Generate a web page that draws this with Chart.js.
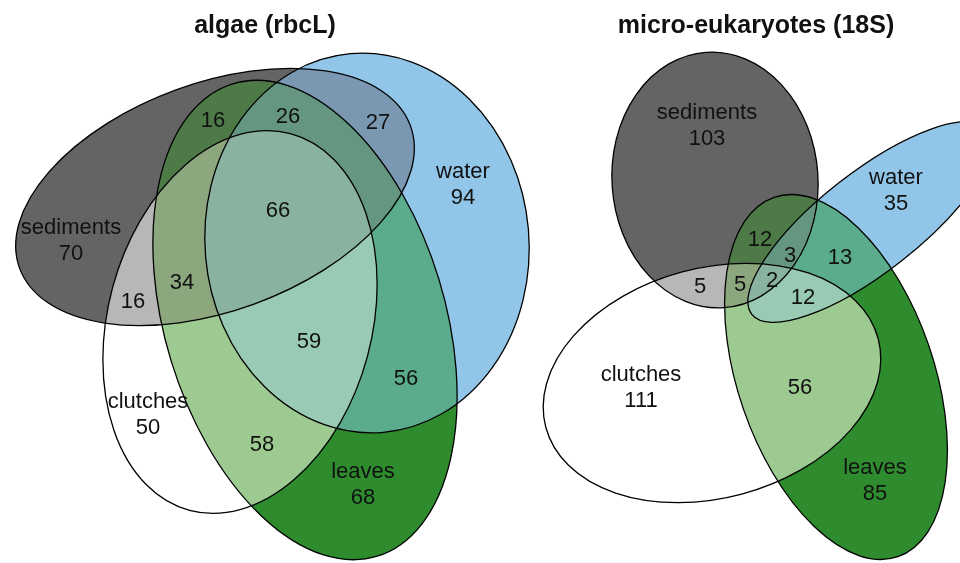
<!DOCTYPE html>
<html>
<head>
<meta charset="utf-8">
<script src="https://cdn.jsdelivr.net/npm/chart.js@4.4.1/dist/chart.umd.min.js"></script>
<style>
  html, body { margin: 0; padding: 0; background: #fff; }
</style>
</head>
<body>
<canvas id="venn" width="960" height="563"></canvas>
<script>
// Sets, one bit each: S=1, W=2, L=4, C=8
const setKeys = ['S', 'W', 'L', 'C'];
const setNames = ['sediments', 'water', 'leaves', 'clutches'];

const panelTitles = ['algae (rbcL)', 'micro-eukaryotes (18S)'];

// Counts per region (left panel: algae)
const leftRegions = ['S', 'SL', 'SWL', 'SW', 'W', 'SWLC', 'SLC', 'SC', 'WLC', 'WL', 'C', 'LC', 'L'];
const leftCounts  = [70, 16, 26, 27, 94, 66, 34, 16, 59, 56, 50, 58, 68];

// Counts per region (right panel: micro-eukaryotes)
const rightRegions = ['S', 'W', 'SL', 'SWL', 'WL', 'SC', 'SLC', 'SWLC', 'WLC', 'C', 'LC', 'L'];
const rightCounts  = [103, 35, 12, 3, 13, 5, 5, 2, 12, 111, 56, 85];

// ---- layout (data units, the axes run 0..960 and 0..563) ----
const titleX = [265, 756];
const titleY = 26;

const leftLabelX = [71, 213, 288, 378, 463, 278, 182, 133, 309, 406, 148, 262, 363];
const leftLabelY = [241, 121, 117, 123, 185, 211, 283, 302, 342, 379, 415, 445, 485];
const rightLabelX = [707, 896, 760, 790, 840, 700, 740, 772, 803, 641, 800, 875];
const rightLabelY = [126, 191, 240, 256, 258, 287, 285, 281, 298, 388, 388, 481];

// ellipses, order S, W, L, C : centre, radii, rotation (deg, clockwise)
const leftCx  = [215, 367, 305, 240];
const leftCy  = [197, 243, 320, 322];
const leftRx  = [208, 162, 247, 132];
const leftRy  = [114, 190, 140, 195];
const leftRot = [-20, -5, 73, 15];

const rightCx  = [715, 870, 836, 712];
const rightCy  = [180, 222, 377, 383];
const rightRx  = [103, 150, 190, 172];
const rightRy  = [128, 50, 98, 115];
const rightRot = [-4, -38, 71, -15];

// fill of each combination of sets (by bit mask)
const regionColors = {
  1: '#646464', 2: '#92c6e8', 4: '#2e8c2e', 8: '#ffffff',
  3: '#7a98b2', 5: '#4e7a48', 9: '#b7b7b7', 6: '#5aac8c', 10: '#c8e2f3', 12: '#9dca91',
  7: '#649682', 11: '#a0b0c0', 13: '#8ca67e', 14: '#98cab4',
  15: '#89b2a0'
};

const panels = [
  { cx: leftCx, cy: leftCy, rx: leftRx, ry: leftRy, rot: leftRot, regions: leftRegions, counts: leftCounts },
  { cx: rightCx, cy: rightCy, rx: rightRx, ry: rightRy, rot: rightRot, regions: rightRegions, counts: rightCounts }
];

function bitCount(m) {
  let n = 0;
  while (m) { n += m & 1; m >>= 1; }
  return n;
}

// ellipse in pixels, through the chart scales
function ellipsePath(ctx, chart, p, i) {
  const xs = chart.scales.x, ys = chart.scales.y;
  const px = xs.getPixelForValue(p.cx[i]);
  const py = ys.getPixelForValue(p.cy[i]);
  const rx = Math.abs(xs.getPixelForValue(p.cx[i] + p.rx[i]) - px);
  const ry = Math.abs(ys.getPixelForValue(p.cy[i] + p.ry[i]) - py);
  ctx.beginPath();
  ctx.ellipse(px, py, rx, ry, p.rot[i] * Math.PI / 180, 0, Math.PI * 2);
}

const masks = [];
for (let m = 1; m < 16; m++) masks.push(m);
masks.sort((a, b) => bitCount(a) - bitCount(b));

const vennPlugin = {
  id: 'venn',
  beforeDatasetsDraw(chart) {
    const ctx = chart.ctx;
    const area = chart.chartArea;
    panels.forEach(p => {
      // paint each combination, smaller ones first
      masks.forEach(m => {
        ctx.save();
        for (let i = 0; i < 4; i++) {
          if (m & (1 << i)) {
            ellipsePath(ctx, chart, p, i);
            ctx.clip();
          }
        }
        ctx.fillStyle = regionColors[m];
        ctx.fillRect(area.left, area.top, area.right - area.left, area.bottom - area.top);
        ctx.restore();
      });
      ctx.save();
      ctx.strokeStyle = '#000';
      ctx.lineWidth = 1.3;
      for (let i = 0; i < 4; i++) {
        ellipsePath(ctx, chart, p, i);
        ctx.stroke();
      }
      ctx.restore();
    });

    // titles
    ctx.save();
    ctx.fillStyle = '#111';
    ctx.font = 'bold 25px "Liberation Sans", Arial, sans-serif';
    ctx.textAlign = 'center';
    ctx.textBaseline = 'middle';
    panelTitles.forEach((t, k) => {
      ctx.fillText(t, chart.scales.x.getPixelForValue(titleX[k]), chart.scales.y.getPixelForValue(titleY));
    });
    ctx.restore();
  },
  afterDatasetsDraw(chart) {
    const ctx = chart.ctx;
    ctx.save();
    ctx.fillStyle = '#111';
    ctx.font = '22px "Liberation Sans", Arial, sans-serif';
    ctx.textAlign = 'center';
    ctx.textBaseline = 'middle';
    chart.data.datasets.forEach((ds, k) => {
      const p = panels[k];
      chart.getDatasetMeta(k).data.forEach((pt, j) => {
        const key = p.regions[j];
        if (key.length === 1) {
          ctx.fillText(setNames[setKeys.indexOf(key)], pt.x, pt.y - 13);
          ctx.fillText(String(p.counts[j]), pt.x, pt.y + 13);
        } else {
          ctx.fillText(String(p.counts[j]), pt.x, pt.y);
        }
      });
    });
    ctx.restore();
  }
};

new Chart(document.getElementById('venn').getContext('2d'), {
  type: 'scatter',
  data: {
    datasets: [
      { data: leftLabelX.map((x, j) => ({ x: x, y: leftLabelY[j] })), pointRadius: 0 },
      { data: rightLabelX.map((x, j) => ({ x: x, y: rightLabelY[j] })), pointRadius: 0 }
    ]
  },
  options: {
    responsive: false,
    animation: false,
    layout: { padding: 0 },
    scales: {
      x: { type: 'linear', min: 0, max: 960, display: false },
      y: { type: 'linear', min: 0, max: 563, reverse: true, display: false }
    },
    plugins: {
      legend: { display: false },
      tooltip: { enabled: false }
    }
  },
  plugins: [vennPlugin]
});
</script>
</body>
</html>
